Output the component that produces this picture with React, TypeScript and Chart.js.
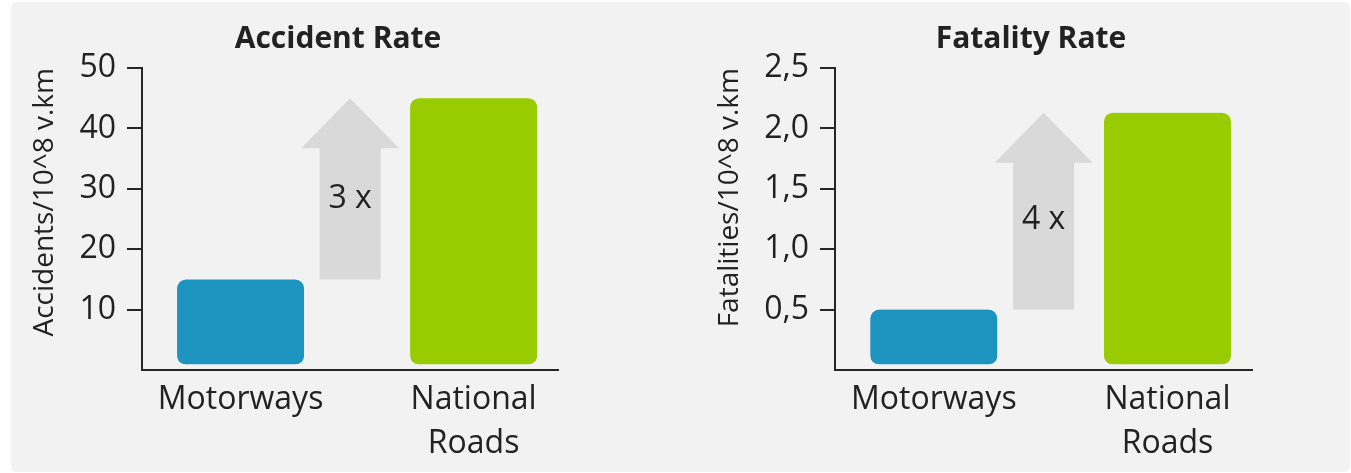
import React, { useEffect, useRef } from 'react';
import { Chart, registerables } from 'chart.js';

Chart.register(...registerables);

// Road categories shared by both panels
const CATEGORIES = ['Motorways', 'National Roads'];

// Accidents per 10^8 vehicle-km
const ACCIDENT_RATE = [15, 45];
const ACCIDENT_AXIS = [0, 50, 10]; // min, max, step

// Fatalities per 10^8 vehicle-km
const FATALITY_RATE = [0.5, 2.13];
const FATALITY_AXIS = [0, 2.5, 0.5]; // min, max, step

const BAR_COLORS = ['#1d93c0', '#99cc00'];
const ARROW_COLOR = '#d9d9d9';
const INK = '#222222';
const AXIS_LINE = '#262626';
const FONT = "'Open Sans', sans-serif";

// Category positions on the x scale and where the comparison arrow sits
const X_RANGE = [-0.423, 1.362];
const ARROW_AT = 0.47;

type PanelSpec = {
  title: string;
  axisTitle: string;
  values: number[];
  axis: number[];
  format: (v: number) => string;
  axisWidth: number;
  rightSpace: number;
  axisTitlePad: number;
};

// Grey up-arrow from the low bar value to the high bar value, labelled with the ratio
const ratioArrow = {
  id: 'ratioArrow',
  afterDatasetsDraw(chart: any, _args: any, opts: any) {
    const { ctx, scales } = chart;
    const x = scales.x;
    const y = scales.y;
    const cx = x.getPixelForValue(opts.at);
    const yTop = y.getPixelForValue(opts.to);
    const yBottom = y.getPixelForValue(opts.from);
    const shaft = opts.shaftWidth / 2;
    const head = opts.headWidth / 2;
    const headBase = yTop + opts.headLength;
    ctx.save();
    ctx.fillStyle = opts.color;
    ctx.beginPath();
    ctx.moveTo(cx, yTop);
    ctx.lineTo(cx + head, headBase);
    ctx.lineTo(cx + shaft, headBase);
    ctx.lineTo(cx + shaft, yBottom);
    ctx.lineTo(cx - shaft, yBottom);
    ctx.lineTo(cx - shaft, headBase);
    ctx.lineTo(cx - head, headBase);
    ctx.closePath();
    ctx.fill();
    ctx.fillStyle = INK;
    ctx.font = `32px ${FONT}`;
    ctx.textAlign = 'center';
    ctx.textBaseline = 'middle';
    ctx.fillText(opts.label, cx, headBase + (yBottom - headBase) * 0.39);
    ctx.restore();
  },
};

function RateChart({ spec, width, height }: { spec: PanelSpec; width: number; height: number }) {
  const ref = useRef<HTMLCanvasElement>(null);

  useEffect(() => {
    const [yMin, yMax, yStep] = spec.axis;
    const [low, high] = spec.values;
    const chart = new Chart(ref.current as HTMLCanvasElement, {
      type: 'bar',
      data: {
        datasets: [
          {
            data: spec.values.map((v, i) => ({ x: i, y: v })),
            backgroundColor: BAR_COLORS,
            borderColor: 'rgba(0,0,0,0)',
            borderWidth: { top: 0, left: 0, right: 0, bottom: 6 },
            borderSkipped: false,
            borderRadius: { topLeft: 9, topRight: 9, bottomLeft: 15, bottomRight: 15 },
            barThickness: 127,
          } as any,
        ],
      },
      options: {
        responsive: false,
        animation: false,
        events: [],
        layout: { padding: 0 },
        plugins: {
          legend: { display: false },
          tooltip: { enabled: false },
          title: {
            display: true,
            text: spec.title,
            color: INK,
            font: { family: FONT, size: 30, weight: 'bold', lineHeight: 1.2 },
            padding: { top: 21, bottom: 11 },
          },
          ratioArrow: {
            at: ARROW_AT,
            from: low,
            to: high,
            label: `${Math.round(high / low)} x`,
            color: ARROW_COLOR,
            shaftWidth: 61,
            headWidth: 98,
            headLength: 50,
          },
        } as any,
        scales: {
          x: {
            type: 'linear',
            offset: false,
            bounds: 'data',
            min: X_RANGE[0],
            max: X_RANGE[1],
            afterBuildTicks: (s: any) => {
              s.ticks = CATEGORIES.map((_, i) => ({ value: i }));
            },
            afterFit: (s: any) => {
              s.height = 103;
            },
            grid: { display: false, drawTicks: false, offset: false },
            border: { display: true, color: AXIS_LINE, width: 2 },
            ticks: {
              color: INK,
              padding: 7,
              font: { family: FONT, size: 32, lineHeight: 1.4 },
              callback: (v: any) => (CATEGORIES[Number(v)] ?? '').split(' '),
            },
          },
          y: {
            type: 'linear',
            min: yMin,
            max: yMax,
            afterBuildTicks: (s: any) => {
              s.ticks = s.ticks.filter((t: any) => t.value !== 0);
            },
            afterFit: (s: any) => {
              s.width = spec.axisWidth;
            },
            grid: {
              drawOnChartArea: false,
              drawTicks: true,
              tickLength: 15,
              color: AXIS_LINE,
              lineWidth: 2,
            },
            border: { display: true, color: AXIS_LINE, width: 2 },
            ticks: {
              stepSize: yStep,
              color: INK,
              padding: 11,
              font: { family: FONT, size: 32 },
              callback: (v: any) => spec.format(Number(v)),
            },
            title: {
              display: true,
              text: spec.axisTitle,
              align: 'end',
              color: INK,
              font: { family: FONT, size: 28, lineHeight: 1.2 },
              padding: { top: spec.axisTitlePad, bottom: 0 },
            },
          },
          spacer: {
            type: 'linear',
            position: 'right',
            display: true,
            grid: { display: false },
            border: { display: false },
            ticks: { display: false },
            afterFit: (s: any) => {
              s.width = spec.rightSpace;
            },
          },
        } as any,
      },
      plugins: [ratioArrow],
    });
    return () => chart.destroy();
  }, [spec]);

  return <canvas ref={ref} width={width} height={height} style={{ width, height, display: 'block' }} />;
}

const ACCIDENT_SPEC: PanelSpec = {
  title: 'Accident Rate',
  axisTitle: 'Accidents/10^8 v.km',
  values: ACCIDENT_RATE,
  axis: ACCIDENT_AXIS,
  format: (v) => String(v),
  axisWidth: 131,
  rightSpace: 107,
  axisTitlePad: 17,
};

const FATALITY_SPEC: PanelSpec = {
  title: 'Fatality Rate',
  axisTitle: 'Fatalities/10^8 v.km',
  values: FATALITY_RATE,
  axis: FATALITY_AXIS,
  format: (v) => v.toFixed(1).replace('.', ','),
  axisWidth: 124,
  rightSpace: 99,
  axisTitlePad: 2,
};

export default function App() {
  return (
    <div style={{ position: 'fixed', left: 0, top: 0, width: 1351, height: 473, overflow: 'hidden', background: '#ffffff' }}>
      <div
        style={{
          position: 'absolute',
          left: 11,
          top: 2,
          width: 1339,
          height: 470,
          background: '#f2f2f2',
          borderRadius: 6,
        }}
      />
      <div style={{ position: 'absolute', left: 11, top: 0 }}>
        <RateChart spec={ACCIDENT_SPEC} width={654} height={473} />
      </div>
      <div style={{ position: 'absolute', left: 711, top: 0 }}>
        <RateChart spec={FATALITY_SPEC} width={640} height={473} />
      </div>
    </div>
  );
}
